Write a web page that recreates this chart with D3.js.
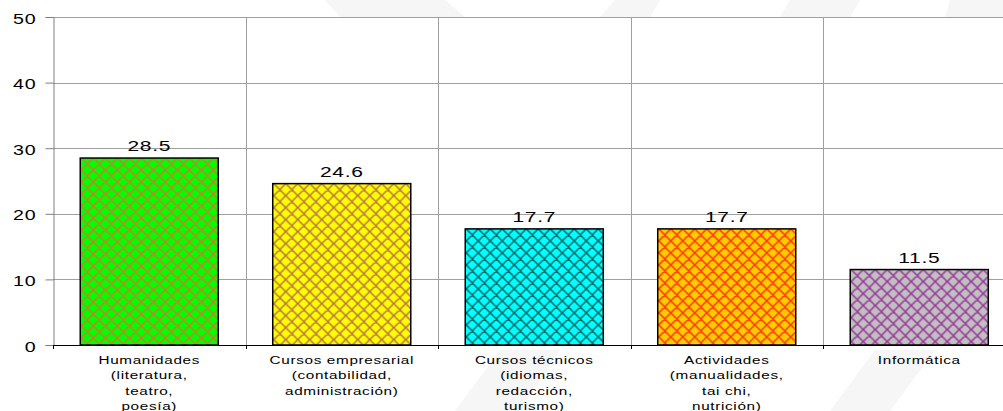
<!DOCTYPE html>
<html><head><meta charset="utf-8">
<script src="https://cdn.jsdelivr.net/npm/d3@7"></script>
<style>
html,body{margin:0;padding:0;background:#fff;}
svg{display:block;font-family:"Liberation Sans",Arial,sans-serif;}
</style></head>
<body><svg id="c" width="1003" height="411"></svg>
<script>
const categories = [
  ["Humanidades","(literatura,","teatro,","poesía)"],
  ["Cursos empresarial","(contabilidad,","administración)"],
  ["Cursos técnicos","(idiomas,","redacción,","turismo)"],
  ["Actividades","(manualidades,","tai chi,","nutrición)"],
  ["Informática"]
];
const values = [28.5, 24.6, 17.7, 17.7, 11.5];
const fillColors = ["#00ff00","#ffff00","#00ffff","#ffcc00","#c0c0c0"];
const hatchColors = ["#c8802a","#b87048","#006666","#ff3300","#993399"];
const yTicks = [0,10,20,30,40,50];

const svg = d3.select("#c");
const mLeft = 53, mTop = 17, mBottom = 345, catW = 192.5;
const n = categories.length;
const mRight = mLeft + catW*n;

const x = d3.scaleBand().domain(d3.range(n)).range([mLeft, mRight]).paddingInner(0.283).paddingOuter(0.1415);
const y = d3.scaleLinear().domain([0,50]).range([mBottom, mTop]);

// faint background watermark (outside plot area)
const wm = svg.append("g").attr("fill","#f6f6f6");
[
  [[325,0],[445,0],[465,17],[340,17]],
  [[615,0],[660,0],[650,17],[600,17]],
  [[790,0],[860,0],[850,17],[780,17]],
  [[950,0],[1003,0],[1003,17],[945,17]],
  [[455,411],[520,411],[560,350],[500,350]],
  [[830,411],[890,411],[935,350],[875,350]]
].forEach(p=>wm.append("path").attr("d",d3.line()(p)+"Z"));
svg.append("rect").attr("x",mLeft).attr("y",mTop).attr("width",1003-mLeft).attr("height",mBottom-mTop).attr("fill","#fff");

// patterns
const defs = svg.append("defs");
hatchColors.forEach((c,i)=>{
  const p = defs.append("pattern").attr("id","h"+i).attr("patternUnits","userSpaceOnUse")
    .attr("width",12).attr("height",12).attr("x", x(i)+1).attr("y", y(values[i]));
  p.append("rect").attr("width",12).attr("height",12).attr("fill",fillColors[i]);
  p.append("path").attr("d","M-3,3 L3,-3 M0,12 L12,0 M9,15 L15,9 M-3,9 L3,15 M0,0 L12,12 M9,-3 L15,3")
    .attr("stroke",c).attr("stroke-width",1.5).attr("fill","none");
});

// gridlines
svg.append("g").selectAll("line").data(yTicks.filter(t=>t>0)).join("line")
  .attr("x1",mLeft).attr("x2",1003).attr("y1",d=>Math.round(y(d))+0.5).attr("y2",d=>Math.round(y(d))+0.5)
  .attr("stroke","#a0a0a0").attr("stroke-width",1);
const bounds = d3.range(1,n).map(i=>mLeft+catW*i);
svg.append("g").selectAll("line").data(bounds).join("line")
  .attr("x1",d=>Math.round(d)+0.5).attr("x2",d=>Math.round(d)+0.5).attr("y1",mTop).attr("y2",mBottom)
  .attr("stroke","#a0a0a0").attr("stroke-width",1);

// y axis
const ya = svg.append("g").attr("transform",`translate(${mLeft+0.5},0)`)
  .call(d3.axisLeft(y).tickValues(yTicks).tickSize(8).tickPadding(0).tickFormat(d3.format("d")));
ya.select(".domain").attr("stroke","#808080");
ya.selectAll(".tick line").attr("stroke","#808080");
ya.selectAll(".tick text").remove();
ya.selectAll(".tick").append("text")
  .attr("transform","translate(-17,6) scale(1.4,1)")
  .attr("text-anchor","end").attr("fill","#000")
  .style("font-size","14px").style("letter-spacing","0.6px").style("font-family","'Liberation Sans',Arial,sans-serif")
  .text(d=>d);

// bars
svg.append("g").selectAll("rect").data(values).join("rect")
  .attr("x",(d,i)=>x(i)).attr("width",x.bandwidth())
  .attr("y",d=>y(d)).attr("height",d=>mBottom-y(d))
  .attr("fill",(d,i)=>`url(#h${i})`).attr("stroke","#000").attr("stroke-width",1.5);

// x axis
svg.append("line").attr("x1",mLeft).attr("x2",1003).attr("y1",mBottom+0.5).attr("y2",mBottom+0.5)
  .attr("stroke","#000").attr("stroke-width",1);
svg.append("g").selectAll("line").data([mLeft].concat(bounds)).join("line")
  .attr("x1",d=>Math.round(d)+0.5).attr("x2",d=>Math.round(d)+0.5).attr("y1",mBottom).attr("y2",mBottom+4)
  .attr("stroke","#000");

// value labels
svg.append("g").selectAll("text").data(values).join("text")
  .attr("transform",(d,i)=>`translate(${x(i)+x.bandwidth()/2},${y(d)-7}) scale(1.4,1)`)
  .attr("text-anchor","middle").style("font-size","15px").style("letter-spacing","0.5px")
  .text(d=>d3.format(".1f")(d));

// category labels
categories.forEach((lines,i)=>{
  const g = svg.append("g").attr("transform",`translate(${x(i)+x.bandwidth()/2},0)`);
  lines.forEach((t,k)=>{
    g.append("text").attr("transform",`translate(0,${364+k*15.3}) scale(1.33,1)`)
      .attr("text-anchor","middle").style("font-size","11.5px").style("letter-spacing","0.5px")
      .text(t);
  });
});
</script></body></html>
